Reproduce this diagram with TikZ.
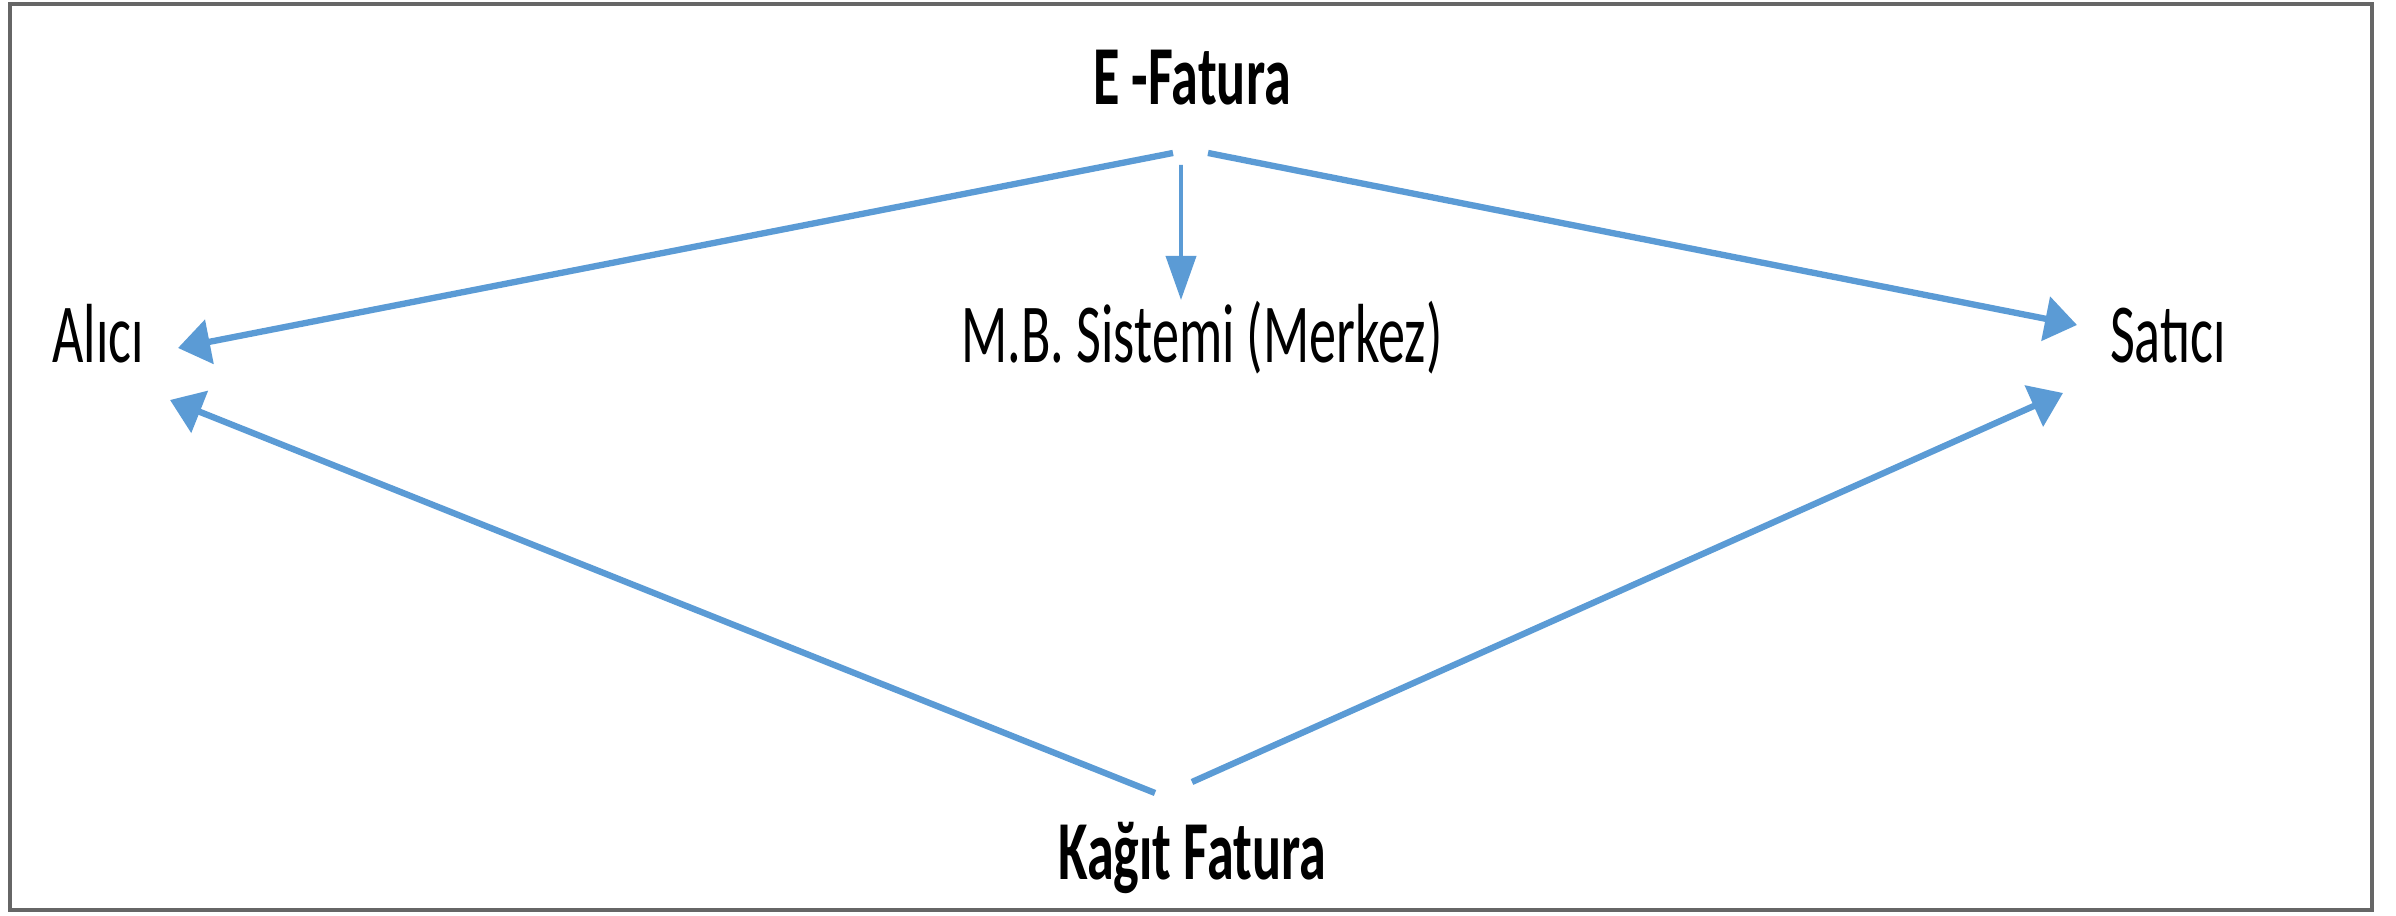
\documentclass[tikz,border=0pt]{standalone}
\usepackage{fontspec}
\setmainfont{Carlito}
\usepackage{tikz}
\usetikzlibrary{calc}
\usetikzlibrary{arrows.meta}
\definecolor{bleuFleche}{HTML}{5B9BD5}
\newcommand{\etire}[1]{\scalebox{1}[1.55]{#1}}

\begin{document}
\begin{tikzpicture}[
    texte/.style={anchor=base,inner sep=0pt,font=\fontsize{15.4}{18}\selectfont},
    fleche/.style={bleuFleche,line width=1.8pt,-{Triangle[length=0.32cm,width=0.44cm]}}]
            \useasboundingbox (0,0) rectangle (23.96,9.16);
            \draw[line width=1pt,gray!80!black] (0.10,0.06) rectangle (23.72,9.12);
            \coordinate (E) at (11.92,8.11);
            \coordinate (A) at (0.98,5.53);
            \coordinate (S) at (21.68,5.53);
            \coordinate (M) at (12.02,5.53);
            \coordinate (K) at (11.92,0.36);
            \node[texte] (efatura) at (E) {\etire{\textbf{E -Fatura}}};
            \node[texte] (alici) at (A) {\etire{Alıcı}};
            \node[texte] (satici) at (S) {\etire{Satıcı}};
            \node[texte] (merkez) at (M) {\etire{M.B. Sistemi (Merkez)}};
            \node[texte] (kagit) at (K) {\etire{\textbf{Kağıt Fatura}}};
            \draw[fleche] ($(efatura.base)+(-0.19,-0.48)$) -- ($(alici.base)+(0.80,0.15)$);
            \draw[fleche] ($(efatura.base)+(0.16,-0.48)$) -- ($(satici.base)+(-0.91,0.38)$);
            \draw[bleuFleche,line width=1.1pt,-{Triangle[length=0.44cm,width=0.30cm]}] ($(efatura.base)+(-0.11,-0.60)$) -- ($(merkez.base)+(-0.21,0.63)$);
            \draw[fleche] ($(kagit.base)+(-0.37,0.87)$) -- ($(alici.base)+(0.72,-0.37)$);
            \draw[fleche] ($(kagit.base)+(0,0.98)$) -- ($(satici.base)+(-1.05,-0.30)$);
        \end{tikzpicture}
\end{document}
